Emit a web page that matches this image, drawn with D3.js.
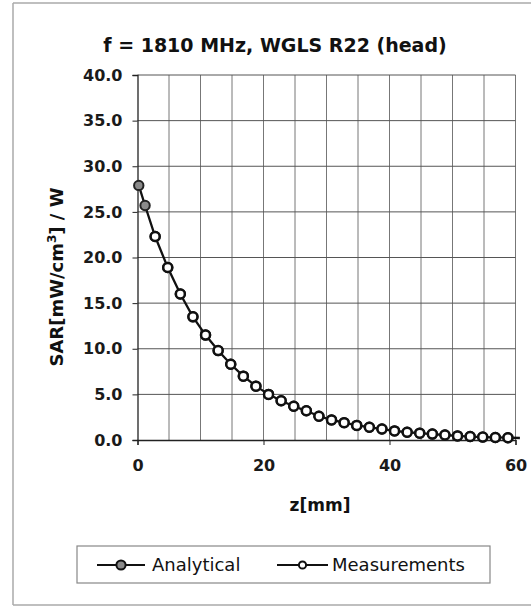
<!DOCTYPE html>
<html>
<head>
<meta charset="utf-8">
<script src="https://cdn.jsdelivr.net/npm/d3@7"></script>
<style>
  body { margin: 0; background: #fff; }
  svg { display: block; font-family: "DejaVu Sans", sans-serif; }
</style>
</head>
<body>
<svg id="chart" width="532" height="607"></svg>
<script>
// values
const measZ = [2.8, 4.8, 6.8, 8.8, 10.8, 12.8, 14.8, 16.8, 18.8, 20.8, 22.8, 24.8, 26.8, 28.8, 30.8,
               32.8, 34.8, 36.8, 38.8, 40.8, 42.8, 44.8, 46.8, 48.8, 50.8, 52.8, 54.8, 56.8, 58.8];
const measSAR = [22.3, 18.9, 16.0, 13.5, 11.5, 9.8, 8.3, 7.0, 5.9, 5.0, 4.3, 3.7, 3.2, 2.6, 2.2,
                 1.9, 1.6, 1.4, 1.2, 1.0, 0.85, 0.75, 0.65, 0.55, 0.45, 0.38, 0.32, 0.28, 0.25];
const anaZ = [0.2, 1.2, 2.8, 4.8, 6.8, 8.8, 10.8, 12.8, 14.8, 16.8, 18.8, 20.8, 22.8, 24.8, 26.8, 28.8, 30.8,
              32.8, 34.8, 36.8, 38.8, 40.8, 42.8, 44.8, 46.8, 48.8, 50.8, 52.8, 54.8, 56.8, 58.8, 60.7];
const anaSAR = [27.9, 25.7, 22.3, 18.9, 16.0, 13.5, 11.5, 9.8, 8.3, 7.0, 5.9, 5.0, 4.3, 3.7, 3.2, 2.6, 2.2,
                1.9, 1.6, 1.4, 1.2, 1.0, 0.85, 0.75, 0.65, 0.55, 0.45, 0.38, 0.32, 0.28, 0.25, 0.22];
const xTicks = [0, 20, 40, 60];
const yTicks = [0, 5, 10, 15, 20, 25, 30, 35, 40];
const gridZ = [5, 10, 15, 20, 25, 30, 35, 40, 45, 50, 55, 60];

const title = 'f = 1810 MHz, WGLS R22 (head)';

const svg = d3.select('#chart');

// edges of the scanned frame (no right edge visible)
const frame = svg.append('g').attr('stroke', '#aaa').attr('stroke-width', 1.5);
frame.append('line').attr('x1', 13).attr('x2', 13).attr('y1', 3).attr('y2', 605);
frame.append('line').attr('x1', 13).attr('x2', 531).attr('y1', 3).attr('y2', 3);
frame.append('line').attr('x1', 13).attr('x2', 531).attr('y1', 605).attr('y2', 605);

const margin = {top: 75, left: 137.5};
const innerWidth = 378;
const innerHeight = 365;

const g = svg.append('g')
    .attr('transform', `translate(${margin.left}, ${margin.top})`);

const xScale = d3.scaleLinear().domain([0, 60]).range([0, innerWidth]);
const yScale = d3.scaleLinear().domain([0, 40]).range([innerHeight, 0]);

// grid
g.append('g').selectAll('line').data(gridZ)
    .enter().append('line')
        .attr('x1', d => xScale(d)).attr('x2', d => xScale(d))
        .attr('y1', 0).attr('y2', innerHeight)
        .attr('stroke', '#777').attr('stroke-width', 1);
g.append('g').selectAll('line').data(yTicks.slice(1))
    .enter().append('line')
        .attr('x1', 0).attr('x2', innerWidth)
        .attr('y1', d => yScale(d)).attr('y2', d => yScale(d))
        .attr('stroke', '#555').attr('stroke-width', 1);

// axes
const xAxis = d3.axisBottom(xScale).tickValues(xTicks).tickSize(5).tickPadding(15).tickFormat(d3.format('d'));
const yAxis = d3.axisLeft(yScale).tickValues(yTicks).tickSize(5).tickPadding(10).tickFormat(d3.format('.1f'));

const gx = g.append('g').attr('transform', `translate(0,${innerHeight})`).call(xAxis);
const gy = g.append('g').call(yAxis);
[gx, gy].forEach(a => {
    a.select('.domain').attr('stroke', '#222').attr('stroke-width', 1.3);
    a.selectAll('.tick line').attr('stroke', '#222');
    a.selectAll('text').attr('font-size', 16).attr('font-weight', 'bold').attr('fill', '#1a1a1a')
        .attr('font-family', '"DejaVu Sans", sans-serif');
});

// line
const line = d3.line()
    .x((d, i) => xScale(anaZ[i]))
    .y(d => yScale(d));
g.append('path')
    .datum(anaSAR)
    .attr('d', line)
    .attr('fill', 'none')
    .attr('stroke', '#111')
    .attr('stroke-width', 2.3);

// analytical markers where no measurement sits on top
const anaPts = anaZ.map((z, i) => ({z, v: anaSAR[i]})).filter(d => d.z < 60);
g.append('g').selectAll('circle').data(anaPts)
    .enter().append('circle')
        .attr('cx', d => xScale(d.z))
        .attr('cy', d => yScale(d.v))
        .attr('r', 4.7)
        .attr('fill', '#8a8a8a')
        .attr('stroke', '#222')
        .attr('stroke-width', 2);

g.append('g').selectAll('circle').data(measZ.map((z, i) => ({z, v: measSAR[i]})))
    .enter().append('circle')
        .attr('cx', d => xScale(d.z))
        .attr('cy', d => yScale(d.v))
        .attr('r', 4.5)
        .attr('fill', '#fff')
        .attr('stroke', '#111')
        .attr('stroke-width', 2.5);

// title
svg.append('text')
    .attr('x', 275).attr('y', 52)
    .attr('text-anchor', 'middle')
    .attr('font-size', 19).attr('font-weight', 'bold').attr('fill', '#111')
    .text(title);

// x label
svg.append('text')
    .attr('x', 320).attr('y', 511)
    .attr('text-anchor', 'middle')
    .attr('font-size', 17).attr('font-weight', 'bold').attr('fill', '#111')
    .text('z[mm]');

// y label
const yl = svg.append('text')
    .attr('transform', 'translate(63, 277) rotate(-90)')
    .attr('text-anchor', 'middle')
    .attr('font-size', 18).attr('font-weight', 'bold').attr('fill', '#111');
yl.append('tspan').text('SAR[mW/cm');
yl.append('tspan').attr('font-size', 12).attr('dy', -7).text('3');
yl.append('tspan').attr('dy', 7).text('] / W');

// legend
const leg = svg.append('g');
leg.append('rect')
    .attr('x', 77).attr('y', 546).attr('width', 413).attr('height', 37)
    .attr('fill', '#fff').attr('stroke', '#888').attr('stroke-width', 1.2);

const legendItems = [
    {label: 'Analytical', x1: 97, x2: 145, fill: '#8a8a8a', r: 4.6, tx: 152},
    {label: 'Measurements', x1: 277, x2: 328, fill: '#fff', r: 3.6, tx: 332}
];
legendItems.forEach(it => {
    leg.append('line')
        .attr('x1', it.x1).attr('x2', it.x2).attr('y1', 565).attr('y2', 565)
        .attr('stroke', '#111').attr('stroke-width', 2);
    leg.append('circle')
        .attr('cx', (it.x1 + it.x2) / 2).attr('cy', 565).attr('r', it.r)
        .attr('fill', it.fill).attr('stroke', '#111').attr('stroke-width', 2);
    leg.append('text')
        .attr('x', it.tx).attr('y', 571)
        .attr('font-size', 18).attr('fill', '#111')
        .text(it.label);
});
</script>
</body>
</html>
